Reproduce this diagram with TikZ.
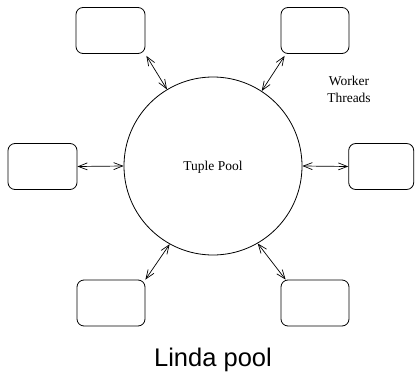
\documentclass[tikz,border=0pt]{standalone}
\usepackage{fontspec}
\setmainfont{Liberation Serif}
\setsansfont{Liberation Sans}
\usetikzlibrary{arrows.meta,calc}
\begin{document}
\begin{tikzpicture}[x=1pt,y=1pt,
  worker/.style={draw,rounded corners=7pt,line width=0.8pt,minimum width=69pt,minimum height=46pt,inner sep=0pt},
  link/.style={line width=0.7pt,{Straight Barb[length=9pt,width=7pt]}-{Straight Barb[length=9pt,width=7pt]}},
  lbl/.style={font=\fontsize{13.5}{16.5}\selectfont,align=center}]
\useasboundingbox (0,0) rectangle (415,373);
\node[circle,draw,line width=0.8pt,minimum size=178pt,inner sep=0pt] (pool) at (213,207) {};
\node[lbl] (pooltext) at (213,206) {Tuple Pool};
\node[worker] (tl) at (110.5,342.5) {};
\node[worker,minimum width=68pt] (tr) at (315,342.5) {};
\node[worker] (l) at (42.5,206.5) {};
\node[worker,minimum width=65pt] (r) at (381.2,206.5) {};
\node[worker,minimum width=68pt] (bl) at (111,70) {};
\node[worker,minimum width=68pt] (br) at (315,70) {};
\node[lbl] (wt) at (349,283.5) {Worker\\Threads};
\node[font=\sffamily\fontsize{25.5}{30}\selectfont] (title) at (213,13) {Linda pool};
\draw[link] ($(tl.south east)+(1,-2)$) -- (pool.121);
\draw[link] ($(tr.south west)+(4,-2)$) -- (pool.57);
\draw[link] (l.east) -- (pool.west);
\draw[link] (pool.east) -- (r.west);
\draw[link] ($(bl.north east)+(0,0)$) -- (pool.241);
\draw[link] ($(br.north west)+(5,0)$) -- (pool.300);
\end{tikzpicture}
\end{document}
